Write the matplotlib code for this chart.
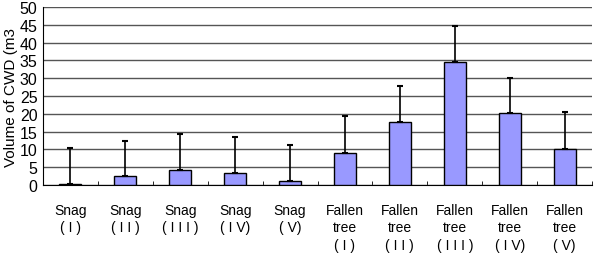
import numpy as np
import matplotlib
matplotlib.use("Agg")
import matplotlib.pyplot as plt

categories = ["Snag\n( I )", "Snag\n( I I )", "Snag\n( I I I )", "Snag\n( I V)", "Snag\n( V)",
              "Fallen\ntree\n( I )", "Fallen\ntree\n( I I )", "Fallen\ntree\n( I I I )",
              "Fallen\ntree\n( I V)", "Fallen\ntree\n( V)"]
volume = [0.3, 2.4, 4.1, 3.5, 1.2, 9.0, 17.6, 34.6, 20.1, 10.2]
upper_err = [10.2, 9.9, 10.1, 10.1, 10.1, 10.3, 10.1, 10.0, 10.0, 10.2]
yticks = [0, 5, 10, 15, 20, 25, 30, 35, 40, 45, 50]

plt.rcParams["font.family"] = ["Liberation Sans", "DejaVu Sans"]

fig = plt.figure(figsize=(5.99, 2.55), dpi=100)
ax = fig.add_axes([43 / 599, 69 / 255, 549 / 599, 178 / 255])

x = np.arange(len(categories))
ax.bar(x, volume, width=0.4, color="#9999ff", edgecolor="black", linewidth=1.0, zorder=3)
ax.errorbar(x, volume, yerr=[np.zeros(len(volume)), upper_err], fmt="none",
            ecolor="black", elinewidth=1.2, capsize=2.5, capthick=1.5, zorder=4)

ax.set_xlim(-0.5, len(categories) - 0.5)
ax.set_ylim(0, 50)
ax.set_yticks(yticks)
ax.tick_params(axis="y", labelsize=11.5, length=0, pad=4)
ax.set_xticks(x)
ax.set_xticklabels(categories, fontsize=10, linespacing=1.3)
ax.tick_params(axis="x", length=0, pad=13)
ax.set_xticks(np.arange(len(categories) + 1) - 0.5, minor=True)
ax.tick_params(axis="x", which="minor", direction="in", length=3, color="black")

ax.grid(axis="y", color="#555555", linewidth=1.0, zorder=0)
for side in ["top", "right"]:
    ax.spines[side].set_visible(False)
ax.spines["left"].set_color("black")
ax.spines["bottom"].set_color("black")

ax.set_ylabel("Volume of CWD (m3", fontsize=11, labelpad=1)

fig.savefig("out.png", dpi=100)
